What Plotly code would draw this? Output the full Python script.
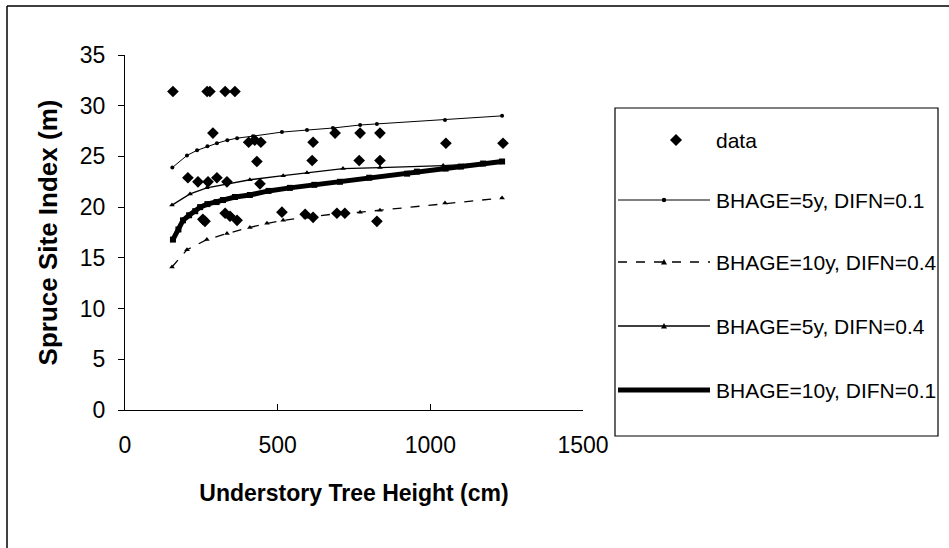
import plotly.graph_objects as go

# ---------------- data ----------------
data_x = [157, 269, 278, 328, 360, 288, 405, 425, 445, 432, 616, 613, 688, 770, 835,
          1051, 1238, 767, 835, 206, 239, 272, 301, 334, 442, 262, 255, 328, 344, 367,
          514, 590, 616, 694, 720, 825]
data_y = [31.4, 31.4, 31.4, 31.4, 31.4, 27.3, 26.4, 26.6, 26.4, 24.5, 26.4, 24.6, 27.3, 27.3, 27.3,
          26.3, 26.3, 24.6, 24.6, 22.9, 22.5, 22.5, 22.9, 22.5, 22.3, 18.6, 18.8, 19.4, 19.1, 18.7,
          19.5, 19.3, 19.0, 19.4, 19.4, 18.6]

a_x = [155, 203, 236, 270, 301, 335, 367, 419, 514, 596, 681, 770, 825, 1048, 1235]
a_y = [23.9, 25.1, 25.6, 26.0, 26.3, 26.6, 26.8, 27.0, 27.4, 27.6, 27.8, 28.1, 28.2, 28.6, 29.0]

b_x = [154, 203, 268, 334, 409, 465, 518, 596, 704, 770, 835, 1048, 1235]
b_y = [14.1, 15.8, 16.8, 17.4, 18.0, 18.4, 18.7, 19.0, 19.4, 19.5, 19.7, 20.4, 20.9]

c_x = [154, 213, 268, 334, 409, 518, 596, 714, 835, 1042, 1235]
c_y = [20.2, 21.3, 21.9, 22.3, 22.7, 23.1, 23.4, 23.8, 23.9, 24.1, 24.4]

d_x = [157, 175, 190, 210, 230, 246, 270, 300, 321, 360, 409, 470, 540, 620, 704,
       800, 924, 956, 1050, 1100, 1173, 1235]
d_y = [16.8, 17.8, 18.7, 19.2, 19.6, 20.0, 20.3, 20.5, 20.7, 21.0, 21.2, 21.6, 21.9, 22.2, 22.5,
       22.9, 23.3, 23.5, 23.8, 24.0, 24.3, 24.5]

x_ticks = [0, 500, 1000, 1500]
y_ticks = [0, 5, 10, 15, 20, 25, 30, 35]

names = ["data", "BHAGE=5y, DIFN=0.1", "BHAGE=10y, DIFN=0.4",
         "BHAGE=5y, DIFN=0.4", "BHAGE=10y, DIFN=0.1"]

W, H = 949, 548
FONT = "Liberation Sans, Arial, sans-serif"

fig = go.Figure()
fig.add_trace(go.Scatter(x=a_x, y=a_y, mode="lines+markers", name=names[1],
                         line=dict(color="black", width=1),
                         marker=dict(symbol="circle", size=4, color="black")))
fig.add_trace(go.Scatter(x=b_x, y=b_y, mode="lines+markers", name=names[2],
                         line=dict(color="black", width=1.3, dash="dash"),
                         marker=dict(symbol="triangle-up", size=5, color="black")))
fig.add_trace(go.Scatter(x=c_x, y=c_y, mode="lines+markers", name=names[3],
                         line=dict(color="black", width=1.3),
                         marker=dict(symbol="triangle-up", size=5, color="black")))
fig.add_trace(go.Scatter(x=d_x, y=d_y, mode="lines+markers", name=names[4],
                         line=dict(color="black", width=5),
                         marker=dict(symbol="square", size=6, color="black")))
fig.add_trace(go.Scatter(x=data_x, y=data_y, mode="markers", name=names[0],
                         marker=dict(symbol="diamond", size=9, color="black")))

# ---------------- custom legend (paper coords = page, margins are 0) ----------------
def px(x):
    return x / W

def py(y):
    return 1 - y / H

shapes = []
annotations = []
# outer frame (top and left edges visible)
shapes.append(dict(type="line", xref="paper", yref="paper", x0=px(7), y0=py(6), x1=px(949), y1=py(6),
                   line=dict(color="black", width=1.5)))
shapes.append(dict(type="line", xref="paper", yref="paper", x0=px(7), y0=py(6), x1=px(7), y1=py(548),
                   line=dict(color="black", width=1.5)))
# legend box
shapes.append(dict(type="rect", xref="paper", yref="paper", x0=px(615), y0=py(108), x1=px(938), y1=py(436),
                   line=dict(color="black", width=1.2), fillcolor="rgba(0,0,0,0)"))

rows = [140, 200, 262, 326, 390]
lx0, lx1, lxc = 618, 710, 664
txt_x = 714

def diamond(cx, cy, r):
    return (f"M {px(cx)},{py(cy - r)} L {px(cx + r)},{py(cy)} "
            f"L {px(cx)},{py(cy + r)} L {px(cx - r)},{py(cy)} Z")

def triangle(cx, cy, r):
    return (f"M {px(cx)},{py(cy - r)} L {px(cx + r)},{py(cy + r * 0.8)} "
            f"L {px(cx - r)},{py(cy + r * 0.8)} Z")

# data
shapes.append(dict(type="path", xref="paper", yref="paper", path=diamond(676, rows[0], 6),
                   fillcolor="black", line=dict(color="black", width=0)))
# 5y 0.1
shapes.append(dict(type="line", xref="paper", yref="paper", x0=px(lx0), y0=py(rows[1]), x1=px(lx1), y1=py(rows[1]),
                   line=dict(color="black", width=1)))
shapes.append(dict(type="circle", xref="paper", yref="paper", x0=px(lxc - 2.2), y0=py(rows[1] - 2.2),
                   x1=px(lxc + 2.2), y1=py(rows[1] + 2.2), fillcolor="black", line=dict(color="black", width=0)))
# 10y 0.4
shapes.append(dict(type="line", xref="paper", yref="paper", x0=px(lx0), y0=py(rows[2]), x1=px(lx1), y1=py(rows[2]),
                   line=dict(color="black", width=1.3, dash="dash")))
shapes.append(dict(type="path", xref="paper", yref="paper", path=triangle(lxc, rows[2], 3),
                   fillcolor="black", line=dict(color="black", width=0)))
# 5y 0.4
shapes.append(dict(type="line", xref="paper", yref="paper", x0=px(lx0), y0=py(rows[3]), x1=px(lx1), y1=py(rows[3]),
                   line=dict(color="black", width=1.3)))
shapes.append(dict(type="path", xref="paper", yref="paper", path=triangle(lxc, rows[3], 3),
                   fillcolor="black", line=dict(color="black", width=0)))
# 10y 0.1
shapes.append(dict(type="line", xref="paper", yref="paper", x0=px(lx0), y0=py(rows[4]), x1=px(lx1), y1=py(rows[4]),
                   line=dict(color="black", width=5)))

for i, n in enumerate(names):
    annotations.append(dict(xref="paper", yref="paper", x=px(txt_x), y=py(rows[i]), text=n,
                            showarrow=False, xanchor="left", yanchor="middle",
                            font=dict(family=FONT, size=21, color="black")))

fig.update_layout(
    width=W, height=H,
    margin=dict(l=0, r=0, t=0, b=0),
    paper_bgcolor="white", plot_bgcolor="white",
    showlegend=False,
    font=dict(family=FONT, color="black"),
    shapes=shapes,
    annotations=annotations,
    xaxis=dict(domain=[125 / W, 583 / W], range=[0, 1500], tickvals=x_ticks,
               ticks="inside", ticklen=6, tickcolor="black", showline=True, linecolor="black",
               linewidth=1, showgrid=False, zeroline=False, automargin=False,
               tickfont=dict(family=FONT, size=23, color="black"), ticklabelstandoff=14,
               title=dict(text="<b>Understory Tree Height (cm)</b>", standoff=28,
                          font=dict(family=FONT, size=23, color="black"))),
    yaxis=dict(domain=[(H - 410) / H, (H - 55) / H], range=[0, 35], tickvals=y_ticks,
               ticks="outside", ticklen=6, tickcolor="black", showline=True, linecolor="black",
               linewidth=1, showgrid=False, zeroline=False, automargin=False,
               tickfont=dict(family=FONT, size=23, color="black"), ticklabelstandoff=8,
               title=dict(text="<b>Spruce Site Index (m)</b>", standoff=14,
                          font=dict(family=FONT, size=26, color="black"))),
)

fig.write_html("out.html")
